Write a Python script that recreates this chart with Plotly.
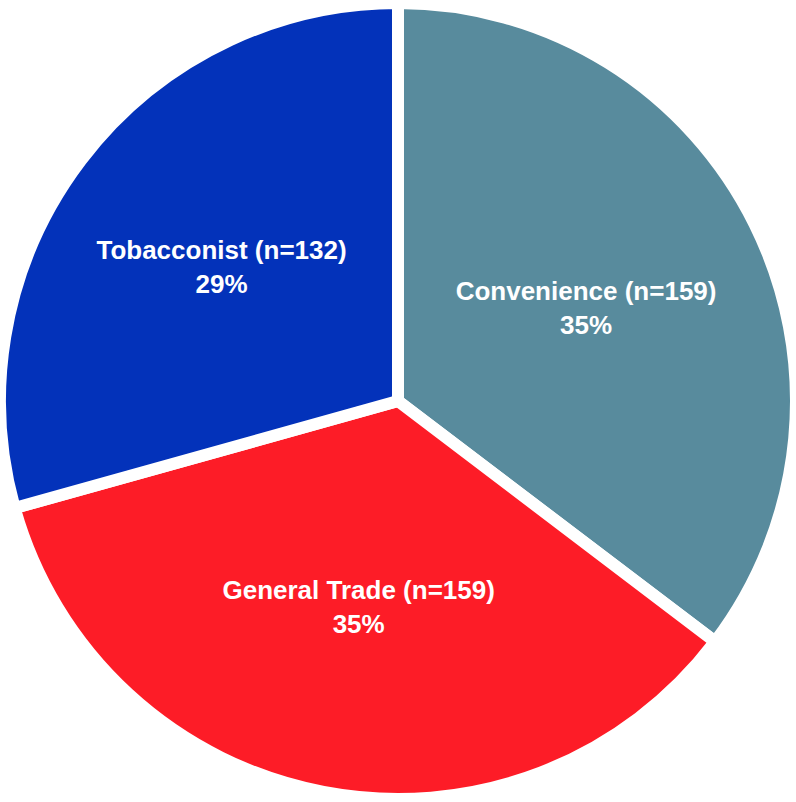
import plotly.graph_objects as go

# Store counts by channel
channels = ["Convenience", "General Trade", "Tobacconist"]
counts = [159, 159, 132]
slice_colors = ["#588B9D", "#FD1C27", "#0332BA"]

fig = go.Figure(
    go.Pie(
        labels=channels,
        values=counts,
        sort=False,
        direction="clockwise",
        rotation=0,
        marker=dict(colors=slice_colors, line=dict(color="white", width=12)),
        texttemplate="<b>%{label} (n=%{value})</b><br><b>%{percent:.0%}</b>",
        textposition="inside",
        insidetextorientation="horizontal",
        textfont=dict(family="Liberation Sans, Arial, sans-serif", size=26, color="white"),
        domain=dict(x=[0, 1], y=[0, 1]),
        hoverinfo="skip",
    )
)

fig.update_layout(
    width=796,
    height=802,
    margin=dict(l=0, r=0, t=0, b=0),
    paper_bgcolor="white",
    plot_bgcolor="white",
    showlegend=False,
)

fig.write_html("out.html")
